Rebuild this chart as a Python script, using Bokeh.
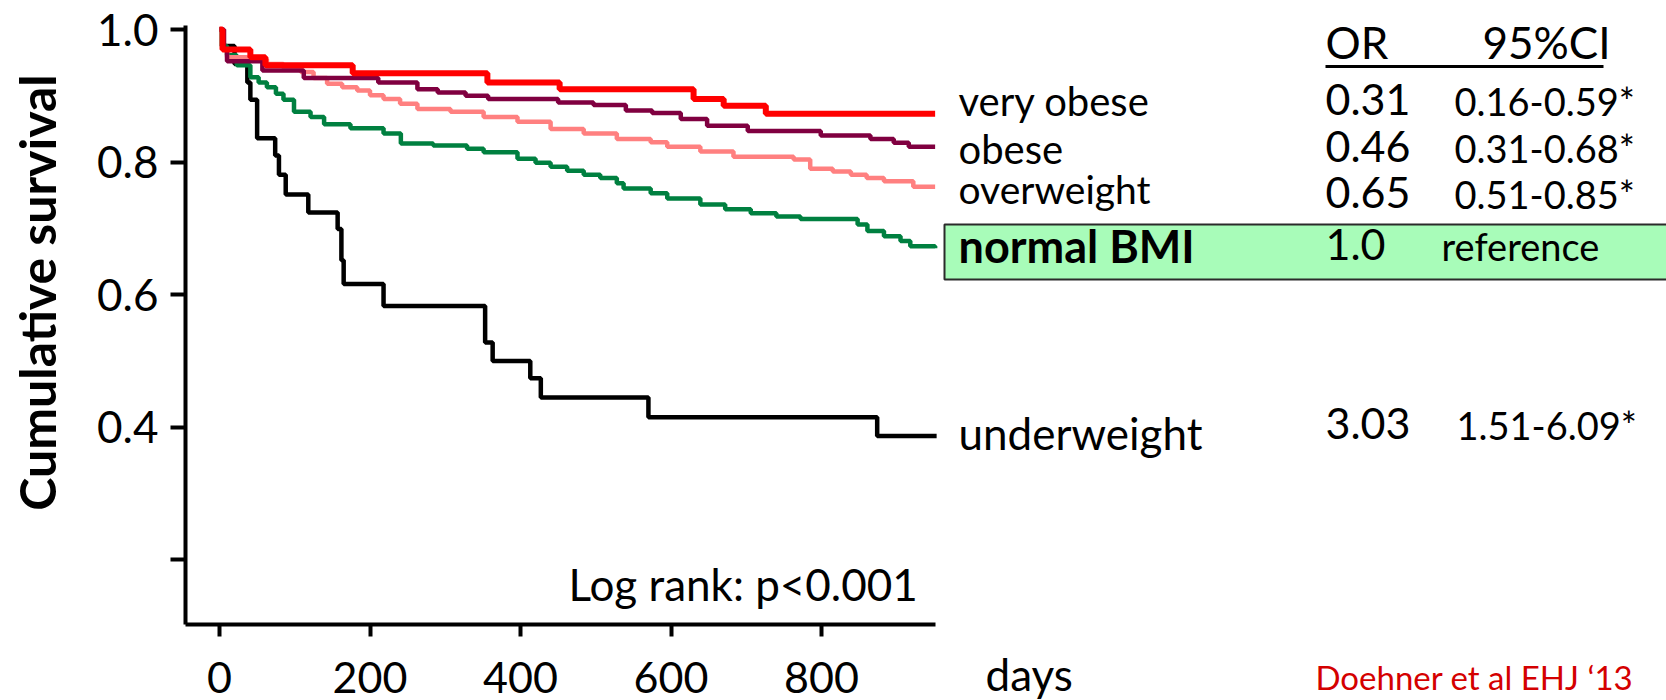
import math
from bokeh.plotting import figure
from bokeh.models import Range1d, FixedTicker, PrintfTickFormatter
from bokeh.embed import file_html
from bokeh.resources import INLINE
from bokeh.core.properties import value

# ---------------- data ----------------
days_very_obese = [0, 4, 41, 61, 177, 356, 452, 630, 670, 726, 951]
surv_very_obese = [1.0, 0.970, 0.958, 0.946, 0.934, 0.920, 0.910, 0.895, 0.885, 0.873, 0.873]

days_obese = [0, 6, 10, 57, 112, 211, 263, 290, 327, 357, 450, 497, 540, 575, 613, 648, 702, 799, 865, 896, 916, 951]
surv_obese = [1.0, 0.970, 0.952, 0.938, 0.927, 0.920, 0.910, 0.905, 0.900, 0.895, 0.890, 0.886, 0.878, 0.874,
              0.865, 0.855, 0.847, 0.840, 0.835, 0.829, 0.823, 0.823]

days_overweight = [0, 5, 10, 37, 63, 85, 108, 125, 143, 163, 183, 200, 218, 240, 263, 307, 351, 396, 440, 484,
                   528, 573, 595, 639, 683, 763, 785, 815, 839, 860, 883, 922, 951]
surv_overweight = [1.0, 0.970, 0.958, 0.955, 0.948, 0.942, 0.936, 0.927, 0.918, 0.913, 0.908, 0.901, 0.895, 0.888,
                   0.880, 0.876, 0.868, 0.861, 0.850, 0.843, 0.835, 0.830, 0.823, 0.816, 0.808, 0.804, 0.790,
                   0.786, 0.781, 0.776, 0.771, 0.763, 0.763]

days_normal = [0, 3, 10, 23, 41, 52, 63, 75, 85, 99, 121, 139, 174, 218, 241, 284, 329, 351, 396, 420, 440, 462,
               484, 506, 528, 537, 573, 595, 639, 672, 706, 740, 772, 848, 861, 883, 905, 918, 951]
surv_normal = [1.0, 0.975, 0.961, 0.946, 0.928, 0.920, 0.913, 0.903, 0.894, 0.876, 0.868, 0.857, 0.851, 0.843,
               0.828, 0.825, 0.820, 0.815, 0.805, 0.799, 0.793, 0.787, 0.781, 0.776, 0.768, 0.760, 0.753, 0.745,
               0.736, 0.729, 0.723, 0.718, 0.714, 0.706, 0.696, 0.688, 0.681, 0.673, 0.670]

days_underweight = [0, 4, 20, 37, 41, 50, 74, 79, 88, 118, 157, 162, 165, 218, 353, 363, 413, 427, 570, 874, 953]
surv_underweight = [1.0, 0.975, 0.948, 0.920, 0.894, 0.836, 0.810, 0.781, 0.751, 0.724, 0.699, 0.652, 0.616,
                    0.583, 0.528, 0.500, 0.474, 0.445, 0.415, 0.387, 0.387]

group_labels = ["very obese", "obese", "overweight", "normal BMI", "underweight"]
or_values = ["0.31", "0.46", "0.65", "1.0", "3.03"]
ci_values = ["0.16-0.59*", "0.31-0.68*", "0.51-0.85*", "reference", "1.51-6.09*"]
x_ticks = [0, 200, 400, 600, 800]
y_ticks = [0.4, 0.6, 0.8, 1.0]
y_minor = [0.2]

FONT = value("Lato")


# helpers: picture pixel -> data position (for text placement only)
def dx(px):
    return (px - 219) / 0.7525


def dy(py):
    return 1 - (py - 29) / 663


def ty(baseline_px, fs):
    # compensate the rendered offset of the alphabetic baseline
    return dy(baseline_px - 0.37 * fs)


W, H = 1666, 700
p = figure(width=W, height=H, output_backend="svg", toolbar_location=None,
           x_range=Range1d(dx(0), dx(W)), y_range=Range1d(dy(H), dy(0)),
           min_border_left=0, min_border_right=0, min_border_top=0, min_border_bottom=0)
p.outline_line_color = None
p.grid.visible = False
p.background_fill_color = "white"
p.border_fill_color = "white"

x_axis_pos = dy(624)
y_axis_pos = dx(185)

# axes
xa = p.xaxis[0]
xa.fixed_location = x_axis_pos
xa.bounds = (y_axis_pos, 951)
xa.ticker = FixedTicker(ticks=x_ticks)
xa.axis_line_width = 4
xa.major_tick_line_width = 4
xa.major_tick_in = 0
xa.major_tick_out = 12
xa.minor_tick_line_color = None
xa.major_label_text_font = "Lato"
xa.major_label_text_font_size = "43px"
xa.major_label_text_color = "black"
xa.major_label_standoff = 25

ya = p.yaxis[0]
ya.fixed_location = y_axis_pos
ya.bounds = (x_axis_pos, dy(25))
ya.ticker = FixedTicker(ticks=y_ticks, minor_ticks=y_minor)
ya.formatter = PrintfTickFormatter(format="%.1f")
ya.axis_line_width = 4
ya.major_tick_line_width = 4
ya.major_tick_in = 0
ya.major_tick_out = 15
ya.minor_tick_line_width = 4
ya.minor_tick_in = 0
ya.minor_tick_out = 15
ya.minor_tick_line_color = "black"
ya.major_label_text_font = "Lato"
ya.major_label_text_font_size = "44px"
ya.major_label_text_color = "black"
ya.major_label_standoff = 12

# y axis title
p.text(x=[dx(36)], y=[dy(292)], text=["Cumulative survival"], angle=math.pi / 2,
       text_align="center", text_baseline="middle", text_font=FONT,
       text_font_style="bold", text_font_size="50px", text_color="black")

# highlighted box for reference group
p.quad(left=[dx(944)], right=[dx(1720)], top=[dy(224)], bottom=[dy(279)],
       fill_color="#a8fcb9", line_color="#2b2b2b", line_width=2)

# survival curves
p.step(days_underweight, surv_underweight, mode="after", line_color="black", line_width=4.5)
p.step(days_normal, surv_normal, mode="after", line_color="#008040", line_width=4.5)
p.step(days_overweight, surv_overweight, mode="after", line_color="#ff8080", line_width=4.5)
p.step(days_obese, surv_obese, mode="after", line_color="#800040", line_width=4.5)
p.step(days_very_obese, surv_very_obese, mode="after", line_color="#ff0000", line_width=6)


def txt(xpx, base, s, fs, color="black", style="normal"):
    p.text(x=[dx(xpx)], y=[ty(base, fs)], text=[s], text_font=FONT, text_font_size=f"{fs}px",
           text_font_style=style, text_baseline="alphabetic", text_align="left", text_color=color)


# group labels
txt(958, 115, group_labels[0], 40)
txt(958, 163, group_labels[1], 40)
txt(958, 203, group_labels[2], 39)
txt(958, 262, group_labels[3], 45, style="bold")
txt(958, 449, group_labels[4], 44)

# table header
txt(1325, 58, "OR", 44)
txt(1482, 58, "95%CI", 44)
p.line([dx(1325), dx(1603)], [dy(66), dy(66)], line_color="black", line_width=3)

row_base = [115, 162, 208, 260, 439]
ci_x = [1454, 1454, 1454, 1441, 1456]
for i in range(5):
    txt(1325, row_base[i], or_values[i], 43)
    txt(ci_x[i], row_base[i], ci_values[i], 38)

# other texts
txt(568, 600, "Log rank: p<0.001", 44)
txt(985, 690, "days", 44)
txt(1315, 689, "Doehner et al EHJ \u201813", 33, color="#d40000")

open("out.html", "w").write(file_html(p, INLINE))
